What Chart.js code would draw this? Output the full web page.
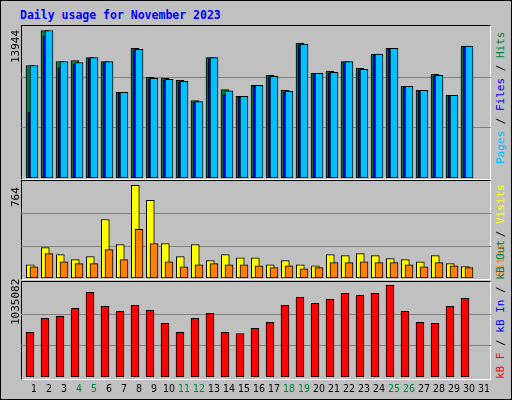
<!DOCTYPE html>
<html><head><meta charset="utf-8">
<script src="https://cdn.jsdelivr.net/npm/chart.js@4"></script>
<style>
body{margin:0;background:#fff}
#wrap{position:relative;width:510px;height:398px;background:#c0c0c0;border:1px solid #000;overflow:hidden}
.pan{position:absolute;left:20px;width:470px;box-sizing:border-box;border-top:1px solid #000;border-left:1px solid #000;border-bottom:1px solid #fff;border-right:1px solid #fff}
canvas{position:absolute}
.t{position:absolute;font-family:"DejaVu Sans Mono",monospace;white-space:nowrap}
.r{transform-origin:0 0;transform:rotate(-90deg);font-size:11px}
</style></head><body>
<div id="wrap">
<div class="t" style="left:19px;top:7px;font-size:11.5px;font-weight:bold;color:#0000ff">Daily usage for November 2023</div>
<div class="pan" style="top:24px;height:155px"></div>
<div class="pan" style="top:179px;height:100px"></div>
<div class="pan" style="top:280px;height:99px"></div>
<canvas id="c1" style="left:20px;top:25px;width:470px;height:152px" width="470" height="152"></canvas>
<canvas id="c2" style="left:20px;top:180px;width:470px;height:97px" width="470" height="97"></canvas>
<canvas id="c3" style="left:20px;top:281px;width:470px;height:116px" width="470" height="116"></canvas>
<div class="t r" style="left:8px;top:62px;color:#000">13944</div>
<div class="t r" style="left:8px;top:206px;color:#000">764</div>
<div class="t r" style="left:8px;top:324px;color:#000">1035082</div>
<div class="t r" style="left:493px;top:163px"><span style="color:#00c0ff">Pages</span> / <span style="color:#0000ff">Files</span> / <span style="color:#008040">Hits</span></div>
<div class="t r" style="left:493px;top:276px"><span style="color:#ff8000">Sites</span> / <span style="color:#ffff00">Visits</span></div>
<div class="t r" style="left:493px;top:378px"><span style="color:#ff0000">kB F</span> / <span style="color:#0000ff">kB In</span> / <span style="color:#008040">kB Out</span></div>
</div>
<script>
const days = Array.from({length:31},(_,i)=>i+1);
const weekendDays = [4,5,11,12,18,19,25,26];
const hits = [10632,13944,11012,11108,11393,11012,8090,12250,9518,9423,9232,7329,11393,8347,7710,8757,9708,8281,12754,9899,10089,11012,10375,11707,12250,8661,8281,9804,7805,12469];
const pages = [10632,13944,11012,10917,11393,11012,8090,12155,9423,9327,9137,7234,11393,8252,7710,8757,9613,8185,12659,9899,9994,11012,10280,11707,12250,8661,8281,9708,7805,12469];
const files = [6242,13423,10416,10767,11333,10952,8030,12095,9363,9267,9077,7174,11333,7900,7650,8697,9553,8125,12599,9839,9934,10952,10220,11647,12190,8601,8221,9648,7745,12409];
const visits = [109,250,192,151,176,482,275,764,640,284,176,275,143,192,167,167,109,143,109,101,192,184,201,184,159,151,134,184,118,95];
const sites = [93,201,134,118,118,234,151,400,284,134,93,109,118,109,109,101,85,101,76,85,126,126,134,126,126,109,93,126,101,85];
const kbytes = [502830,661380,684030,774630,955830,797280,740660,808610,751980,604760,502830,661380,718010,502830,491510,548130,616080,808610,899210,831260,876560,944510,921860,944510,1035082,740660,616080,604760,797280,887880];
const maxTop = 14369, maxMid = 799, maxBot = 1072330;

const pts = (arr,off)=>arr.map((v,i)=>({x:i+1+off,y:v}));
const grid = {id:'grid',beforeDatasetsDraw(ch){const y=ch.scales.y,c=ch.ctx;c.save();c.strokeStyle='#808080';c.lineWidth=1;
  [1,2].forEach(k=>{const p=Math.round(y.getPixelForValue(y.max*k/3))+0.5;c.beginPath();c.moveTo(ch.chartArea.left,p);c.lineTo(ch.chartArea.right,p);c.stroke();});c.restore();}};
const xlab = {id:'xlab',afterDraw(ch){const x=ch.scales.x,c=ch.ctx;c.save();c.font='10.5px "DejaVu Sans Condensed","DejaVu Sans"';c.textAlign='center';c.textBaseline='middle';
  days.forEach(d=>{c.fillStyle=weekendDays.includes(d)?'#008040':'#000';c.fillText(String(d),x.getPixelForValue(d),107);});c.restore();}};
function mk(id,ds,max,extra,pad){
  return new Chart(document.getElementById(id),{type:'bar',data:{datasets:ds.map(d=>Object.assign({grouped:false,borderColor:'#000',borderWidth:1,barThickness:8,borderSkipped:false},d))},
  options:{responsive:false,animation:false,layout:{padding:{bottom:pad||0}},plugins:{legend:{display:false},tooltip:{enabled:false}},
  scales:{x:{type:'linear',display:false,offset:false,bounds:'data',min:2/15,max:472/15},y:{display:false,min:0,max:max}}},plugins:[grid].concat(extra||[])});
}
mk('c1',[{data:pts(hits,-0.267),backgroundColor:'#008040',order:3},{data:pts(files,-0.133),backgroundColor:'#0000ff',order:2},{data:pts(pages,0),backgroundColor:'#00c0ff',order:1}],maxTop);
mk('c2',[{data:pts(visits,-0.247),backgroundColor:'#ffff00',order:2},{data:pts(sites,0),backgroundColor:'#ff8000',order:1}],maxMid);
mk('c3',[{data:pts(kbytes,-0.267),backgroundColor:'#ff0000'}],maxBot,[xlab],21);
</script></body></html>
